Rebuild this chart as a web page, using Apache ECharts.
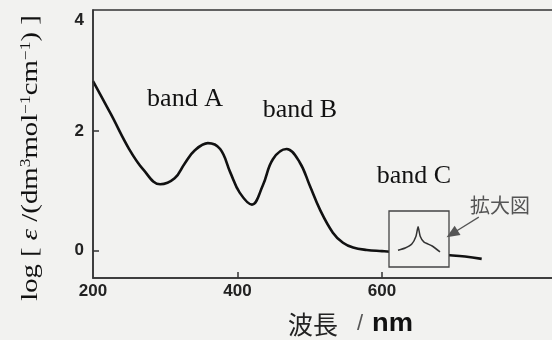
<!DOCTYPE html>
<html><head><meta charset="utf-8">
<script src="https://cdn.jsdelivr.net/npm/echarts@6/dist/echarts.min.js"></script>
<style>html,body{margin:0;padding:0;background:#f2f2f0}#c{width:552px;height:340px}</style>
</head><body><div id="c"></div>
<script>
// Main absorption spectrum (wavelength in nm, log epsilon)
const wavelength = [200, 225, 250, 270, 293, 313, 327, 341, 359, 376, 390, 403, 420, 435, 449, 468, 486, 500, 514, 532, 546, 560, 579, 600, 611, 650, 694, 715, 738];
const logEps     = [2.84, 2.28, 1.70, 1.35, 1.11, 1.21, 1.46, 1.68, 1.80, 1.70, 1.31, 0.97, 0.77, 1.09, 1.53, 1.70, 1.48, 1.09, 0.69, 0.30, 0.13, 0.05, 0.01, -0.01, -0.02, -0.05, -0.08, -0.10, -0.14];
// Inset (enlarged band C), arbitrary inset units
const insetX = [1.5, 2.7, 3.8, 4.5, 4.85, 5.2, 5.8, 7.2, 8.5];
const insetY = [3.0, 3.4, 4.1, 5.5, 7.2, 5.5, 4.5, 3.75, 2.7];
// Axis ticks
const xTickLabels = [200, 400, 600];
const xTickMarks = [400, 600];
const yTickLabels = [0, 2, 4];
const yTickMarks = [0, 2];
const bandLabels = ['band A', 'band B', 'band C'];
const insetLabel = '拡大図';

const chart = echarts.init(document.getElementById('c'), null, {renderer: 'canvas'});
const serif = '"Liberation Serif", "DejaVu Serif", serif';
const sans = '"Liberation Sans", Arial, sans-serif';
const cjk = '"Noto Sans CJK JP", sans-serif';

chart.setOption({
  backgroundColor: '#f2f2f0',
  animation: false,
  grid: [
    {left: 93, top: 10, width: 469.6, height: 268, show: true, borderColor: '#333', borderWidth: 1.5, backgroundColor: 'transparent', outerBoundsMode: 'none', z: 0},
    {left: 389, top: 211, width: 60, height: 56, show: true, borderColor: '#444', borderWidth: 1.3, backgroundColor: '#f2f2f0', outerBoundsMode: 'none', z: 5}
  ],
  xAxis: [
    {type: 'value', gridIndex: 0, min: 200, max: 850, z: 3,
     axisLine: {show: true, onZero: false, lineStyle: {color: '#333', width: 1.5}}, splitLine: {show: false},
     axisTick: {show: true, inside: true, length: 6, customValues: xTickMarks, lineStyle: {color: '#333', width: 1.5}},
     axisLabel: {customValues: xTickLabels, margin: 5, color: '#222', fontSize: 17, fontFamily: sans, fontWeight: 'bold'}},
    {type: 'value', gridIndex: 1, min: 0, max: 10, show: false}
  ],
  yAxis: [
    {type: 'value', gridIndex: 0, min: -0.46, max: 4.03, z: 3,
     axisLine: {show: true, onZero: false, lineStyle: {color: '#333', width: 1.5}}, splitLine: {show: false},
     axisTick: {show: true, inside: true, length: 6, customValues: yTickMarks, lineStyle: {color: '#333', width: 1.5}},
     axisLabel: {customValues: yTickLabels, margin: 9, verticalAlignMaxLabel: 'top', color: '#222', fontSize: 17, fontFamily: sans, fontWeight: 'bold'}},
    {type: 'value', gridIndex: 1, min: 0, max: 10, show: false}
  ],
  series: [
    {type: 'line', xAxisIndex: 0, yAxisIndex: 0, z: 2,
     data: wavelength.map((w, i) => [w, logEps[i]]),
     smooth: 0.4, showSymbol: false, silent: true,
     lineStyle: {color: '#111', width: 2.6},
     markLine: {silent: true, symbol: ['none', 'triangle'], symbolSize: [11, 13], label: {show: false},
       lineStyle: {color: '#555', width: 1.2, type: 'solid'},
       data: [[{coord: [734, 0.56]}, {coord: [697, 0.28]}]]}
    },
    {type: 'line', xAxisIndex: 1, yAxisIndex: 1, z: 6,
     data: insetX.map((x, i) => [x, insetY[i]]),
     smooth: 0.2, showSymbol: false, silent: true,
     lineStyle: {color: '#333', width: 1.5}}
  ],
  graphic: [
    {type: 'text', x: 185, y: 99, style: {text: bandLabels[0], font: '26px ' + serif, fill: '#111', align: 'center', verticalAlign: 'middle'}},
    {type: 'text', x: 300, y: 110, style: {text: bandLabels[1], font: '26px ' + serif, fill: '#111', align: 'center', verticalAlign: 'middle'}},
    {type: 'text', x: 414, y: 176, style: {text: bandLabels[2], font: '26px ' + serif, fill: '#111', align: 'center', verticalAlign: 'middle'}},
    {type: 'text', x: 470, y: 205, style: {text: insetLabel, font: '20px ' + cjk, fill: '#555', align: 'left', verticalAlign: 'middle'}},
    {type: 'text', x: 31, y: 158, rotation: Math.PI / 2, scaleX: 1.25,
     style: {text: 'log [ {i|ε} /(dm{s|3}mol{s|−1}cm{s|−1}) ]', font: '23px ' + serif, fill: '#111', align: 'center', verticalAlign: 'middle',
       rich: {i: {fontStyle: 'italic', fontSize: 23, fontFamily: serif, fill: '#111'},
              s: {fontSize: 14, fontFamily: serif, verticalAlign: 'top', fill: '#111'}}}},
    {type: 'text', x: 288, y: 324, style: {text: '波長', font: '25px ' + cjk, fill: '#222', align: 'left', verticalAlign: 'middle'}},
    {type: 'text', x: 357, y: 324, style: {text: '/', font: '22px ' + sans, fill: '#555', align: 'left', verticalAlign: 'middle'}},
    {type: 'text', x: 372, y: 324, scaleX: 1.05, style: {text: 'nm', font: 'bold 26px ' + sans, fill: '#111', align: 'left', verticalAlign: 'middle'}}
  ]
});
</script>
</body></html>
